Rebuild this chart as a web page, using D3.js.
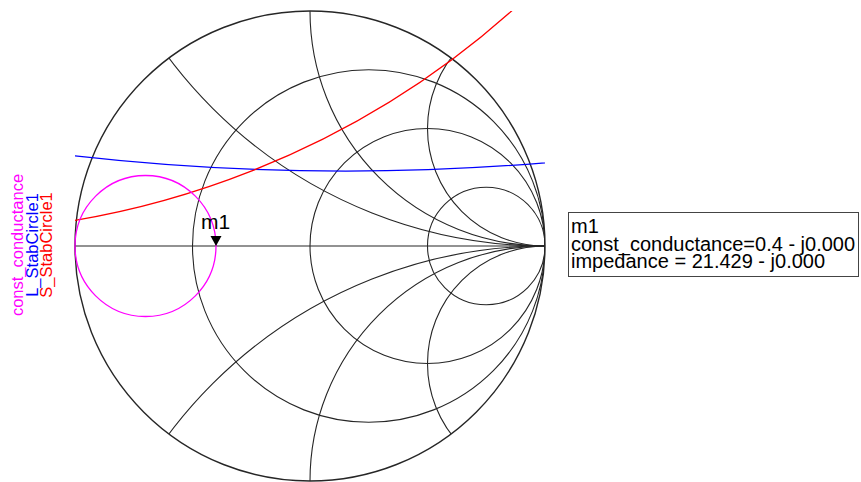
<!DOCTYPE html>
<html>
<head>
<meta charset="utf-8">
<script src="https://cdn.jsdelivr.net/npm/d3@7/dist/d3.min.js"></script>
<style>
  html, body { margin: 0; padding: 0; background: #fff; }
  svg { display: block; font-family: "Liberation Sans", Arial, sans-serif; }
</style>
</head>
<body>
<svg id="chart" width="861" height="482"></svg>
<script>
// Smith chart grid (normalised impedance)
const resistanceCircles = [1 / 3, 1, 3];
const reactanceArcs = [0.5, 1, 2, -0.5, -1, -2];

// Traces: stability circles in the reflection-coefficient plane (centre u, v and radius)
const traceNames = ["const_conductance", "L_StabCircle1", "S_StabCircle1"];
const traceColors = ["#ff00ff", "#0000ff", "#ff0000"];
const stabCenters = [[0.152, 10.583], [-1.619, 3.784]];   // L, S
const stabRadii = [10.264, 3.726];

// Marker m1
const z0 = 50;
const markerImpedance = 21.429;             // ohms, real
const markerLabel = "m1";
const markerLines = ["m1", "const_conductance=0.4 - j0.000", "impedance = 21.429 - j0.000"];

const svg = d3.select("#chart");
const cx = 310, cy = 246, R = 235;
const x = d3.scaleLinear().domain([-1, 1]).range([cx - R, cx + R]);
const y = d3.scaleLinear().domain([-1, 1]).range([cy + R, cy - R]);
const k = x(1) - x(0);   // pixels per unit

const defs = svg.append("defs");
defs.append("clipPath").attr("id", "unit")
  .append("circle").attr("cx", x(0)).attr("cy", y(0)).attr("r", k);
defs.append("clipPath").attr("id", "box")
  .append("rect").attr("x", x(-1)).attr("y", y(1)).attr("width", 2 * k).attr("height", 2 * k);

const gridColor = "#262626";
const grid = svg.append("g").attr("clip-path", "url(#unit)")
  .attr("fill", "none").attr("stroke", gridColor).attr("stroke-width", 1.1);

// constant-resistance circles
grid.selectAll("circle.r").data(resistanceCircles).join("circle")
  .attr("class", "r")
  .attr("cx", r => x(r / (1 + r)))
  .attr("cy", y(0))
  .attr("r", r => k / (1 + r));

// constant-reactance arcs
grid.selectAll("circle.x").data(reactanceArcs).join("circle")
  .attr("class", "x")
  .attr("cx", x(1))
  .attr("cy", xv => y(1 / xv))
  .attr("r", xv => k / Math.abs(xv));

// real axis
svg.append("line")
  .attr("x1", x(-1)).attr("x2", x(1)).attr("y1", y(0)).attr("y2", y(0))
  .attr("stroke", gridColor).attr("stroke-width", 1.1);

// outer circle
svg.append("circle")
  .attr("cx", x(0)).attr("cy", y(0)).attr("r", k)
  .attr("fill", "none").attr("stroke", gridColor).attr("stroke-width", 1.4);

// stability circles
const stab = svg.append("g").attr("clip-path", "url(#box)").attr("fill", "none");
stab.selectAll("circle").data(stabCenters).join("circle")
  .attr("cx", d => x(d[0]))
  .attr("cy", d => y(d[1]))
  .attr("r", (d, i) => k * stabRadii[i])
  .attr("stroke", (d, i) => traceColors[i + 1])
  .attr("stroke-width", 1.3);

// constant-conductance circle through the marker
const zn = markerImpedance / z0;
const g = 1 / zn;
const gamma = (zn - 1) / (zn + 1);
svg.append("circle")
  .attr("cx", x(-g / (1 + g)))
  .attr("cy", y(0))
  .attr("r", k / (1 + g))
  .attr("fill", "none").attr("stroke", traceColors[0]).attr("stroke-width", 1.3);

// marker
const mx = x(gamma), my = y(0);
svg.append("path")
  .attr("d", `M${mx - 5.5},${my - 10}L${mx + 5.5},${my - 10}L${mx},${my}Z`)
  .attr("fill", "#000");
svg.append("text")
  .attr("x", mx - 0.5).attr("y", my - 17)
  .attr("text-anchor", "middle")
  .attr("font-size", 21)
  .attr("fill", "#000")
  .text(markerLabel);

// legend (rotated)
const legendX = [23, 38, 52];
traceNames.forEach((name, i) => {
  svg.append("text")
    .attr("transform", `translate(${legendX[i]},${cy - 1}) rotate(-90)`)
    .attr("text-anchor", "middle")
    .attr("font-size", 16.5)
    .attr("fill", traceColors[i])
    .text(name);
});

// marker readout box
const box = svg.append("g");
box.append("rect")
  .attr("x", 568.5).attr("y", 212.5).attr("width", 290).attr("height", 64)
  .attr("fill", "#fff").attr("stroke", "#444").attr("stroke-width", 1);
box.selectAll("text").data(markerLines).join("text")
  .attr("x", 571)
  .attr("y", (d, i) => 233 + i * 17.5)
  .attr("font-size", 20)
  .attr("fill", "#000")
  .text(d => d);
</script>
</body>
</html>
